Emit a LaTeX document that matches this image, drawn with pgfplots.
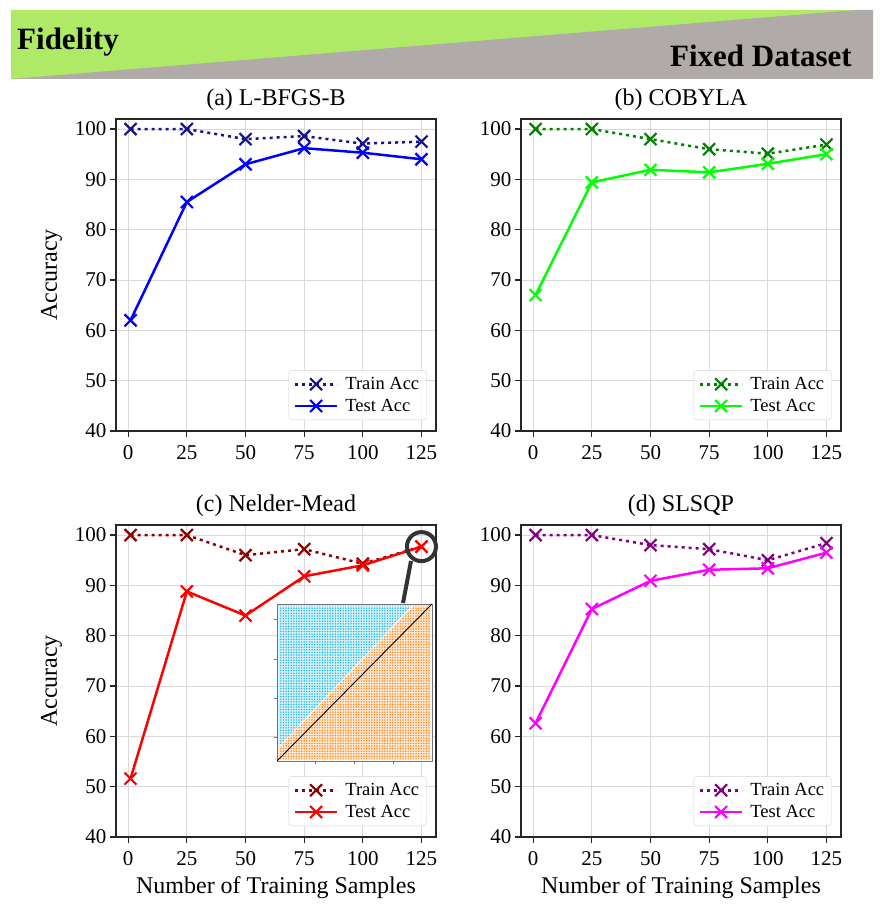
\documentclass[border=0pt]{standalone}
\usepackage{fontspec}
\setmainfont{Liberation Serif}
\usepackage{pgfplots}
\pgfplotsset{compat=1.18}
\usetikzlibrary{patterns.meta}

\definecolor{trainA}{RGB}{20,20,140}
\definecolor{testA}{RGB}{0,0,255}
\definecolor{trainB}{RGB}{0,128,0}
\definecolor{testB}{RGB}{0,255,0}
\definecolor{trainC}{RGB}{139,0,0}
\definecolor{testC}{RGB}{255,0,0}
\definecolor{trainD}{RGB}{128,0,128}
\definecolor{testD}{RGB}{255,0,255}
\definecolor{bannergreen}{RGB}{174,234,102}
\definecolor{bannergray}{RGB}{176,170,168}
\definecolor{cyanpts}{RGB}{20,180,225}
\definecolor{orangepts}{RGB}{255,127,14}

\pgfplotsset{
  accstyle/.style={
    scale only axis, width=320pt, height=312pt,
    anchor=south west,
    xmin=-5.2, xmax=131.2, ymin=40, ymax=102,
    xtick={0,25,50,75,100,125}, ytick={40,50,60,70,80,90,100},
    tick pos=left, tick align=outside,
    major tick length=6pt,
    tick style={line width=1.2pt, black!85},
    grid=major, grid style={line width=1pt, draw=black!15},
    axis line style={line width=1.3pt, draw=black!85},
    ticklabel style={font=\fontsize{21}{24}\selectfont},
    xticklabel style={yshift=-5pt},
    /pgf/number format/assume math mode=true,
    title style={font=\fontsize{24}{28}\selectfont, yshift=-1pt},
    label style={font=\fontsize{24}{28}\selectfont},
    xlabel shift=4pt, ylabel shift=6pt,
    legend style={at={(0.97,0.035)}, anchor=south east,
      font=\fontsize{18.5}{21}\selectfont, draw=black!18, rounded corners=3pt,
      fill=white, fill opacity=0.85, text opacity=1, draw opacity=1,
      row sep=4pt, column sep=5pt, inner xsep=5pt, inner ysep=5pt},
    legend cell align=left,
    legend image code/.code={
      \draw[mark repeat=2, mark phase=2, #1]
        plot coordinates {(0pt,0pt) (21pt,0pt) (42pt,0pt)};
    },
  },
  train/.style={line width=2.5pt, dash pattern=on 3pt off 4pt,
    mark=x, mark size=8.5pt, mark options={solid, line width=2.2pt}},
  test/.style={line width=2.5pt,
    mark=x, mark size=8.5pt, mark options={solid, line width=2.2pt}},
}

\begin{document}
\begin{tikzpicture}
\path[use as bounding box, fill=white] (0pt,0pt) rectangle (882pt,915pt);

% header banner
\fill[bannergreen] (11pt,836pt) rectangle (873pt,905pt);
\fill[bannergray] (11pt,836pt) -- (873pt,836pt) -- (873pt,905pt) -- (856pt,905pt) -- cycle;
\node[anchor=base west, inner sep=0pt, font=\fontsize{31}{36}\selectfont\bfseries]
  at (17pt,865pt) {Fidelity};
\node[anchor=base east, inner sep=0pt, font=\fontsize{31}{36}\selectfont\bfseries]
  at (852pt,848pt) {Fixed Dataset};

% (a) L-BFGS-B
\begin{axis}[accstyle, at={(116pt,484pt)}, title={(a) L-BFGS-B}, ylabel={Accuracy}]
\addplot[train, color=trainA] coordinates {(1,100) (25,100) (50,98.0) (75,98.6) (100,97.1) (125,97.5)};
\addlegendentry{Train Acc}
\addplot[test, color=testA] coordinates {(1,62.0) (25,85.5) (50,93.0) (75,96.2) (100,95.3) (125,94.0)};
\addlegendentry{Test Acc}
\end{axis}

% (b) COBYLA
\begin{axis}[accstyle, at={(521pt,484pt)}, title={(b) COBYLA}]
\addplot[train, color=trainB] coordinates {(1,100) (25,100) (50,98.0) (75,96.0) (100,95.1) (125,96.9)};
\addlegendentry{Train Acc}
\addplot[test, color=testB] coordinates {(1,67.0) (25,89.4) (50,91.9) (75,91.4) (100,93.1) (125,95.0)};
\addlegendentry{Test Acc}
\end{axis}

% (c) Nelder-Mead
\begin{axis}[accstyle, at={(116pt,78pt)}, title={(c) Nelder-Mead}, ylabel={Accuracy},
  xlabel={Number of Training Samples}, clip=false]
\addplot[train, color=trainC] coordinates {(1,100) (25,100) (50,96.0) (75,97.2) (100,94.3) (125,97.7)};
\addlegendentry{Train Acc}
\addplot[test, color=testC] coordinates {(1,51.6) (25,88.8) (50,84.0) (75,91.8) (100,94.0) (125,97.7)};
\addlegendentry{Test Acc}
\draw[line width=4pt, black!80] (axis cs:125,97.7) circle[radius=14.5pt];
\end{axis}

% decision boundary inset for the last Nelder-Mead point
\begin{axis}[at={(277pt,154pt)}, anchor=south west, scale only axis,
  width=155pt, height=157pt, xmin=0, xmax=1, ymin=0, ymax=1,
  axis background/.style={fill=white},
  axis line style={line width=0.8pt, black!55},
  xtick={0.25,0.5,0.75}, ytick={0.15,0.4,0.65,0.9},
  xticklabels={}, yticklabels={},
  tick pos=left, tick align=outside, major tick length=3pt,
  tick style={line width=0.6pt, black!55}]
\addplot[draw=none, fill=cyanpts!18,
  postaction={pattern={Dots[distance=2.6pt, radius=0.8pt]}, pattern color=cyanpts}]
  coordinates {(0.01,0.09) (0.01,0.99) (0.87,0.99)} -- cycle;
\addplot[draw=none, fill=orangepts!18,
  postaction={pattern={Dots[distance=2.6pt, radius=0.8pt]}, pattern color=orangepts}]
  coordinates {(0.01,0.01) (0.01,0.08) (0.88,0.99) (0.99,0.99) (0.99,0.01)} -- cycle;
\addplot[black, line width=0.9pt] coordinates {(0,0) (1,1)};
\end{axis}
\draw[line width=4pt, black!80] (411pt,354pt) -- (403pt,312pt);

% (d) SLSQP
\begin{axis}[accstyle, at={(521pt,78pt)}, title={(d) SLSQP}, xlabel={Number of Training Samples}]
\addplot[train, color=trainD] coordinates {(1,100) (25,100) (50,98.0) (75,97.2) (100,95.0) (125,98.4)};
\addlegendentry{Train Acc}
\addplot[test, color=testD] coordinates {(1,62.6) (25,85.3) (50,90.9) (75,93.1) (100,93.4) (125,96.5)};
\addlegendentry{Test Acc}
\end{axis}
\end{tikzpicture}
\end{document}
